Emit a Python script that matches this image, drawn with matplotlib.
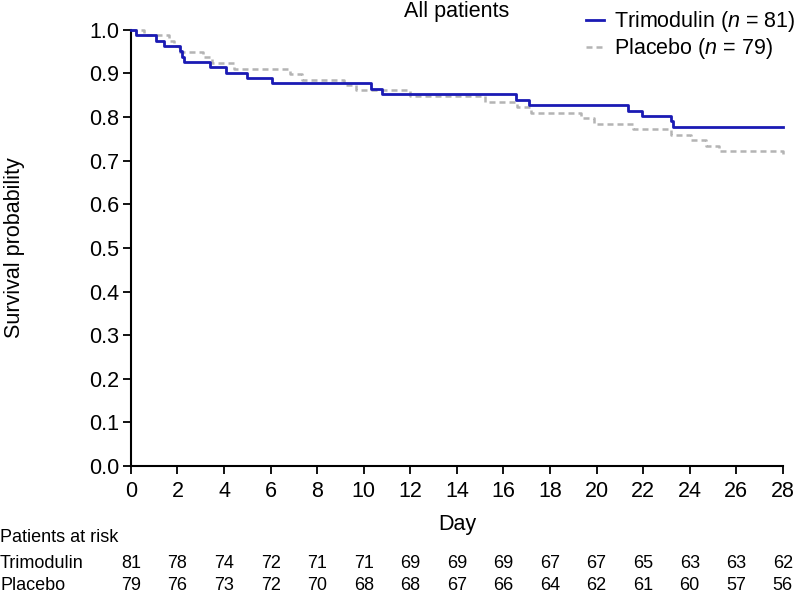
import matplotlib
matplotlib.use("Agg")
import matplotlib.pyplot as plt
import matplotlib.transforms as mtransforms

plt.rcParams['font.family'] = ['Liberation Sans', 'DejaVu Sans']
plt.rcParams['mathtext.fontset'] = 'custom'
plt.rcParams['mathtext.rm'] = 'Liberation Sans'
plt.rcParams['mathtext.it'] = 'Liberation Sans:italic'

# Kaplan-Meier steps (event day, survival after the event)
trimodulin_days = [0.2, 1.1, 1.42, 2.1, 2.2, 2.3, 3.4, 4.08, 5.0, 6.08,
                   10.3, 10.8, 16.55, 17.1, 21.35, 21.96, 23.2, 23.3]
trimodulin_surv = [0.988, 0.975, 0.963, 0.951, 0.938, 0.926, 0.914, 0.901, 0.889, 0.877,
                   0.864, 0.852, 0.840, 0.827, 0.815, 0.802, 0.790, 0.778]

placebo_days = [0.55, 1.65, 1.85, 2.06, 3.08, 3.5, 4.43, 6.82, 7.37, 9.14, 9.66,
                12.0, 15.2, 16.6, 17.17, 19.34, 19.9, 21.56, 23.18, 24.06, 24.68, 25.25, 28.0]
placebo_surv = [0.987, 0.975, 0.962, 0.949, 0.937, 0.924, 0.911, 0.899, 0.886, 0.873, 0.861,
                0.848, 0.835, 0.823, 0.810, 0.797, 0.785, 0.772, 0.759, 0.747, 0.734, 0.722, 0.709]

# patients at risk table
risk_days = [0, 2, 4, 6, 8, 10, 12, 14, 16, 18, 20, 22, 24, 26, 28]
risk_trimodulin = [81, 78, 74, 72, 71, 71, 69, 69, 69, 67, 67, 65, 63, 63, 62]
risk_placebo = [79, 76, 73, 72, 70, 68, 68, 67, 66, 64, 62, 61, 60, 57, 56]

FS = 15.5   # main text size
FS_TABLE = 13

fig = plt.figure(figsize=(7.98, 5.96), dpi=100)
ax = fig.add_axes([0.164, 0.218, 0.817, 0.732])

# trimodulin: solid blue
tx = [0] + trimodulin_days + [28]
ty = [1.0] + trimodulin_surv + [trimodulin_surv[-1]]
ax.step(tx, ty, where='post', color='#1a1ab4', lw=2.0, clip_on=False, zorder=3,
        label='Trimodulin ($n$ = 81)')

# placebo: light grey dashed
px = [0] + placebo_days
py = [1.0] + placebo_surv
ax.step(px, py, where='post', color='#b4b4b4', lw=1.8, dashes=(2.4, 1.6),
        clip_on=False, zorder=2, label='Placebo ($n$ = 79)')

ax.set_xlim(0, 28)
ax.set_ylim(0, 1.0)
ax.set_xticks(range(0, 29, 2))
ax.set_yticks([i / 10 for i in range(11)])
ax.set_yticklabels([f"{i / 10:.1f}" for i in range(11)])
ax.tick_params(labelsize=FS, length=5.5, width=1.3, direction='out', pad=3)
ax.tick_params(axis='x', pad=5)
for s in ['top', 'right']:
    ax.spines[s].set_visible(False)
for s in ['left', 'bottom']:
    ax.spines[s].set_linewidth(1.5)

ax.set_xlabel('Day', fontsize=FS, labelpad=9)
ax.set_ylabel('Survival probability', fontsize=FS)
ax.yaxis.set_label_coords(-0.162, 0.5)
ax.set_title('All patients', fontsize=FS, pad=9)

fig.legend(loc='upper right', bbox_to_anchor=(1.003, 0.992), frameon=False,
           fontsize=FS, handlelength=0.8, handletextpad=0.5, labelspacing=0.1,
           borderpad=0.2, borderaxespad=0)

# risk table under the axis
trans = mtransforms.blended_transform_factory(ax.transData, fig.transFigure)
fig.text(0.0, 1 - 538 / 596, 'Patients at risk', fontsize=FS_TABLE, va='center', ha='left')
fig.text(0.0, 1 - 563 / 596, 'Trimodulin', fontsize=FS_TABLE, va='center', ha='left')
fig.text(0.0, 1 - 586 / 596, 'Placebo', fontsize=FS_TABLE, va='center', ha='left')
for d, a, b in zip(risk_days, risk_trimodulin, risk_placebo):
    fig.text(d, 1 - 563 / 596, str(a), transform=trans, fontsize=FS_TABLE, va='center', ha='center')
    fig.text(d, 1 - 586 / 596, str(b), transform=trans, fontsize=FS_TABLE, va='center', ha='center')

fig.savefig('out.png', dpi=100)
